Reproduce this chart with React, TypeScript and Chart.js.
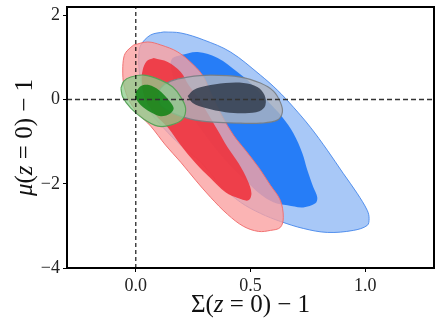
import React, { useEffect, useRef } from 'react';
import { Chart, registerables } from 'chart.js';

Chart.register(...registerables);

const xTickValues = [0, 0.5, 1.0];
const xTickLabels = ['0.0', '0.5', '1.0'];
const yTickValues = [-4, -2, 0, 2];
const yTickLabels = ['\u22124', '\u22122', '0', '2'];

// contour outlines [x, y]
const blueOuter: number[][] = [
  [0.122, 1.607], [0.065, 1.536], [0.022, 1.298], [0.013, 1.06], [0.017, 0.583], [0.035, 0.179],
  [0.065, -0.298], [0.122, -0.679], [0.196, -1.083], [0.283, -1.488], [0.370, -2.036], [0.457, -2.44],
  [0.543, -2.702], [0.630, -2.893], [0.730, -3.06], [0.835, -3.155], [0.948, -3.107], [1.009, -2.988],
  [1.017, -2.821], [1.009, -2.631], [0.965, -2.226], [0.904, -1.75], [0.835, -1.202], [0.761, -0.655],
  [0.687, -0.179], [0.617, 0.226], [0.543, 0.583], [0.413, 1.131], [0.296, 1.417],
  [0.196, 1.583],
];
const blueInner: number[][] = [
  [0.196, 1.06], [0.270, 1.131], [0.357, 0.988], [0.443, 0.655], [0.5, 0.393], [0.570, -0.012],
  [0.639, -0.417], [0.687, -0.798], [0.726, -1.274], [0.748, -1.679], [0.774, -2.083], [0.791, -2.321],
  [0.783, -2.464], [0.730, -2.56], [0.661, -2.512], [0.6, -2.44], [0.543, -2.25], [0.478, -1.917],
  [0.391, -1.44], [0.304, -0.845], [0.230, -0.25], [0.174, 0.345], [0.152, 0.845], [0.161, 0.988],
];
const redOuter: number[][] = [
  [-0.009, 1.298], [-0.039, 1.155], [-0.052, 1.012], [-0.057, 0.702], [-0.052, 0.345], [-0.030, -0.012],
  [0.009, -0.321], [0.065, -0.631], [0.130, -1.083], [0.196, -1.488], [0.261, -1.917], [0.326, -2.321],
  [0.4, -2.726], [0.470, -3.012], [0.535, -3.131], [0.587, -3.107], [0.630, -3.036], [0.643, -2.798],
  [0.630, -2.393], [0.587, -2.036], [0.535, -1.607], [0.478, -1.202], [0.426, -0.845], [0.374, -0.369],
  [0.330, 0.107], [0.296, 0.536], [0.252, 0.821], [0.183, 1.131], [0.109, 1.298], [0.052, 1.369],
];
const redInner: number[][] = [
  [0.078, 0.988], [0.048, 0.917], [0.030, 0.702], [0.026, 0.417], [0.043, -0.012], [0.087, -0.369],
  [0.139, -0.655], [0.196, -1.083], [0.261, -1.512], [0.326, -1.869], [0.391, -2.202], [0.448, -2.345],
  [0.491, -2.393], [0.504, -2.226], [0.487, -1.917], [0.448, -1.512], [0.4, -1.131], [0.357, -0.726],
  [0.313, -0.321], [0.270, 0.060], [0.230, 0.345], [0.196, 0.655], [0.139, 0.893],
];
const grayOuter: number[][] = [
  [0.096, 0.060], [0.109, 0.274], [0.152, 0.440], [0.226, 0.536], [0.326, 0.583], [0.457, 0.536],
  [0.543, 0.393], [0.6, 0.202], [0.630, -0.060], [0.639, -0.298], [0.617, -0.488], [0.543, -0.560],
  [0.457, -0.560], [0.339, -0.536], [0.239, -0.464], [0.161, -0.321], [0.109, -0.131],
];
const grayInner: number[][] = [
  [0.226, 0.083], [0.252, 0.226], [0.304, 0.321], [0.391, 0.393], [0.470, 0.393], [0.530, 0.298],
  [0.561, 0.107], [0.565, -0.131], [0.539, -0.274], [0.478, -0.321], [0.391, -0.298], [0.304, -0.202],
  [0.248, -0.083],
];
const greenOuter: number[][] = [
  [-0.065, 0.274], [-0.052, 0.440], [-0.022, 0.536], [0.035, 0.583], [0.109, 0.464], [0.161, 0.298],
  [0.196, 0.060], [0.217, -0.202], [0.204, -0.464], [0.152, -0.607], [0.096, -0.631], [0.035, -0.464],
  [-0.022, -0.202], [-0.057, 0.060],
];
const greenInner: number[][] = [
  [0, 0.179], [0.022, 0.321], [0.057, 0.345], [0.1, 0.226], [0.143, -0.012], [0.165, -0.202],
  [0.152, -0.321], [0.109, -0.393], [0.065, -0.298], [0.022, -0.131], [0, 0.036],
];

const refLineH: number[][] = [[-0.3, 0], [1.3, 0]];
const refLineV: number[][] = [[0, -4], [0, 2.2]];

const closed = (pts: number[][]) => {
  const p = pts.map(([x, y]) => ({ x, y }));
  p.push({ ...p[0] });
  return p;
};

const contour = (pts: number[][], fill: string, edge: string, edgeW: number, order: number) => ({
  data: closed(pts),
  showLine: true,
  fill: 'shape',
  backgroundColor: fill,
  borderColor: edge,
  borderWidth: edgeW,
  pointRadius: 0,
  tension: 0.35,
  order,
});

const SERIF = '"Liberation Serif", "DejaVu Serif", serif';

function drawMixed(ctx: CanvasRenderingContext2D, segs: [string, boolean][], cx: number, cy: number, size: number) {
  const fontFor = (it: boolean) => `${it ? 'italic ' : ''}${size}px ${SERIF}`;
  let total = 0;
  for (const [t, it] of segs) {
    ctx.font = fontFor(it);
    total += ctx.measureText(t).width;
  }
  let x = cx - total / 2;
  ctx.textBaseline = 'middle';
  ctx.textAlign = 'left';
  for (const [t, it] of segs) {
    ctx.font = fontFor(it);
    ctx.fillText(t, x, cy);
    x += ctx.measureText(t).width;
  }
}

const framePlugin = {
  id: 'frameAndTitles',
  afterDatasetsDraw(chart: any) {
    const { ctx, chartArea: a } = chart;
    ctx.save();
    ctx.strokeStyle = '#000';
    ctx.lineWidth = 2;
    ctx.strokeRect(a.left, a.top, a.right - a.left, a.bottom - a.top);
    ctx.restore();
  },
  afterDraw(chart: any) {
    const { ctx, chartArea: a } = chart;
    ctx.save();
    ctx.fillStyle = '#111';
    drawMixed(ctx, [['\u03A3(', false], ['z', true], [' = 0) \u2212 1', false]], (a.left + a.right) / 2, 305, 25);
    ctx.translate(25, (a.top + a.bottom) / 2);
    ctx.rotate(-Math.PI / 2);
    drawMixed(ctx, [['\u03BC', true], ['(', false], ['z', true], [' = 0) \u2212 1', false]], 0, 0, 25);
    ctx.restore();
  },
};

export default function App() {
  const ref = useRef<HTMLCanvasElement>(null);
  useEffect(() => {
    if (!ref.current) return;
    const chart = new Chart(ref.current, {
      type: 'scatter',
      data: {
        datasets: [
          contour(blueOuter, 'rgba(38,118,236,0.4)', 'rgba(70,135,235,0.9)', 1, 20),
          contour(blueInner, 'rgba(20,115,247,0.88)', 'rgba(0,0,0,0)', 0, 19),
          contour(redOuter, 'rgba(250,161,161,0.8)', 'rgba(240,110,110,0.95)', 1, 18),
          contour(redInner, 'rgba(238,51,62,0.9)', 'rgba(0,0,0,0)', 0, 17),
          contour(grayOuter, 'rgba(175,180,190,0.8)', 'rgba(120,125,130,0.9)', 1.2, 16),
          contour(grayInner, 'rgba(50,60,76,0.85)', 'rgba(0,0,0,0)', 0, 15),
          contour(greenOuter, 'rgba(140,205,140,0.75)', 'rgba(85,160,85,0.95)', 1.2, 14),
          contour(greenInner, 'rgba(10,128,15,0.82)', 'rgba(0,0,0,0)', 0, 13),
          {
            data: refLineH.map(([x, y]) => ({ x, y })),
            showLine: true, fill: false, borderColor: '#333', borderWidth: 1.5,
            borderDash: [5, 3], pointRadius: 0, order: 2,
          },
          {
            data: refLineV.map(([x, y]) => ({ x, y })),
            showLine: true, fill: false, borderColor: '#000', borderWidth: 1.1,
            borderDash: [4, 3], pointRadius: 0, order: 1,
          },
        ] as any,
      },
      options: {
        animation: false,
        responsive: false,
        maintainAspectRatio: false,
        layout: { padding: { top: 7, right: 7, left: 0, bottom: 0 } },
        plugins: { legend: { display: false }, tooltip: { enabled: false } },
        scales: {
          x: {
            type: 'linear',
            min: -0.3,
            max: 1.3,
            afterBuildTicks: (s: any) => { s.ticks = xTickValues.map((v) => ({ value: v })); },
            afterFit: (s: any) => { s.height = 56; s.paddingLeft = 0; s.paddingRight = 0; },
            ticks: {
              callback: (_v: any, i: number) => xTickLabels[i],
              font: { family: SERIF, size: 18 },
              color: '#222',
              padding: 3,
              maxRotation: 0,
            },
            grid: { display: true, drawOnChartArea: false, drawTicks: true, tickLength: 4, color: '#000' },
            border: { display: false },
          },
          y: {
            type: 'linear',
            min: -4,
            max: 2.2,
            afterBuildTicks: (s: any) => { s.ticks = yTickValues.map((v) => ({ value: v })); },
            afterFit: (s: any) => { s.width = 67; s.paddingTop = 0; s.paddingBottom = 0; },
            ticks: {
              callback: (_v: any, i: number) => yTickLabels[i],
              font: { family: SERIF, size: 18 },
              color: '#222',
              padding: 3,
            },
            grid: { display: true, drawOnChartArea: false, drawTicks: true, tickLength: 4, color: '#000' },
            border: { display: false },
          },
        },
      },
      plugins: [framePlugin],
    });
    return () => chart.destroy();
  }, []);
  return (
    <div style={{ position: 'fixed', left: 0, top: 0, width: 441, height: 324, background: '#fff' }}>
      <canvas ref={ref} width={441} height={324} style={{ width: 441, height: 324, display: 'block' }} />
    </div>
  );
}
